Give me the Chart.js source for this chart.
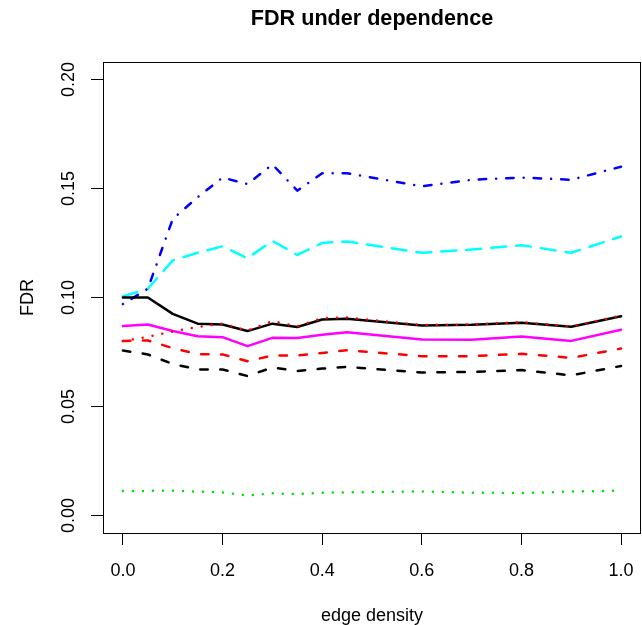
<!DOCTYPE html>
<html>
<head>
<meta charset="utf-8">
<script src="https://cdn.jsdelivr.net/npm/chart.js@4.4.0/dist/chart.umd.min.js"></script>
<style>
    html, body { margin: 0; padding: 0; background: #fff; }
    #wrap { width: 642px; height: 625px; }
</style>
</head>
<body>
<div id="wrap"><canvas id="fdrChart" width="642" height="625"></canvas></div>
<script>
// edge density values on the x axis
var density = [0, 0.05, 0.1, 0.15, 0.2, 0.25, 0.3, 0.35, 0.4, 0.45, 0.6, 0.7, 0.8, 0.9, 1.0];

// FDR curves
var blueDotDash   = [0.097, 0.104, 0.136, 0.146, 0.155, 0.152, 0.161, 0.149, 0.157, 0.157, 0.151, 0.154, 0.155, 0.154, 0.160];
var cyanLongDash  = [0.1005, 0.104, 0.117, 0.1205, 0.1235, 0.118, 0.126, 0.1195, 0.125, 0.1257, 0.1205, 0.122, 0.124, 0.1205, 0.128];
var blackSolid    = [0.100, 0.100, 0.0925, 0.088, 0.0876, 0.0846, 0.088, 0.0865, 0.0899, 0.0902, 0.0872, 0.0875, 0.0884, 0.0866, 0.0914];
var redDotted     = [0.080, 0.082, 0.0844, 0.0865, 0.088, 0.0848, 0.0892, 0.0868, 0.0905, 0.0908, 0.0874, 0.0876, 0.0887, 0.0867, 0.0917];
var magentaSolid  = [0.0869, 0.0876, 0.0846, 0.0822, 0.0818, 0.0777, 0.0815, 0.0814, 0.0829, 0.0841, 0.0807, 0.0806, 0.0821, 0.0801, 0.0852];
var redDashed     = [0.0801, 0.0803, 0.0768, 0.0740, 0.0739, 0.0708, 0.0734, 0.0734, 0.0746, 0.0758, 0.0731, 0.0731, 0.0742, 0.0723, 0.0766];
var blackDashed   = [0.0757, 0.0739, 0.0695, 0.0670, 0.0670, 0.0640, 0.0679, 0.0663, 0.0674, 0.0682, 0.0656, 0.0659, 0.0667, 0.0643, 0.0686];
var greenDotted   = [0.0113, 0.0113, 0.0114, 0.0110, 0.0106, 0.0092, 0.0102, 0.0098, 0.0105, 0.0106, 0.0111, 0.0105, 0.0103, 0.0110, 0.0114];

var xTicks = [0, 0.2, 0.4, 0.6, 0.8, 1.0];
var yTicks = [0, 0.05, 0.10, 0.15, 0.20];

var FONT = "'Liberation Sans', Arial, Helvetica, sans-serif";
var LW = 2.5;

function pts(values){
    return density.map(function(d, i){ return {x: d, y: values[i]}; });
}

function series(values, color, dash){
    return {
        data: pts(values),
        borderColor: color,
        borderWidth: LW,
        borderDash: dash,
        borderCapStyle: 'round',
        borderJoinStyle: 'round',
        pointRadius: 0,
        tension: 0,
        fill: false
    };
}

// R style box, tick labels and main title
var rFrame = {
    id: 'rFrame',
    afterDraw: function(chart){
        var ctx = chart.ctx;
        var a = chart.chartArea;
        var xs = chart.scales.x;
        var ys = chart.scales.y;
        ctx.save();
        ctx.strokeStyle = '#000';
        ctx.lineWidth = 1;
        ctx.strokeRect(Math.round(a.left) + 0.5, Math.round(a.top) + 0.5,
            Math.round(a.right - a.left) - 1, Math.round(a.bottom - a.top));

        ctx.fillStyle = '#000';
        ctx.font = '18px ' + FONT;
        ctx.textAlign = 'center';
        ctx.textBaseline = 'middle';
        xs.ticks.forEach(function(t){
            ctx.fillText(t.value.toFixed(1), xs.getPixelForValue(t.value), 571);
        });
        ys.ticks.forEach(function(t){
            var py = ys.getPixelForValue(t.value);
            ctx.save();
            ctx.translate(69, py);
            ctx.rotate(-Math.PI / 2);
            ctx.fillText(t.value.toFixed(2), 0, 0);
            ctx.restore();
        });

        ctx.font = 'bold 21.6px ' + FONT;
        ctx.fillText('FDR under dependence', (a.left + a.right) / 2, 19);
        ctx.restore();
    }
};

var ctx = document.getElementById('fdrChart').getContext('2d');
var chart = new Chart(ctx, {
    type: 'line',
    data: {
        datasets: [
            series(redDotted, '#ff0000', [0.01, 10]),
            series(blackSolid, '#000000', []),
            series(magentaSolid, '#ff00ff', []),
            series(redDashed, '#ff0000', [7.5, 12.5]),
            series(blackDashed, '#000000', [7.5, 12.5]),
            series(blueDotDash, '#0000ff', [0.01, 10, 7.5, 10]),
            series(cyanLongDash, '#00ffff', [15, 10]),
            series(greenDotted, '#00e000', [0.01, 10])
        ]
    },
    options: {
        responsive: false,
        animation: false,
        devicePixelRatio: 1,
        layout: { padding: { top: 62, right: 1, left: 0, bottom: 0 } },
        plugins: {
            legend: { display: false },
            tooltip: { enabled: false },
            title: { display: false }
        },
        scales: {
            x: {
                type: 'linear',
                min: -0.04,
                max: 1.04,
                afterBuildTicks: function(scale){
                    scale.ticks = xTicks.map(function(v){ return {value: v}; });
                },
                afterFit: function(scale){ scale.height = 92; },
                border: { display: false },
                grid: { drawOnChartArea: false, drawTicks: true, tickLength: 12, color: '#000', lineWidth: 1 },
                ticks: { display: false },
                title: {
                    display: true,
                    text: 'edge density',
                    color: '#000',
                    font: { family: FONT, size: 18 },
                    padding: { top: 10, bottom: -2 }
                }
            },
            y: {
                type: 'linear',
                min: -0.008,
                max: 0.208,
                afterBuildTicks: function(scale){
                    scale.ticks = yTicks.map(function(v){ return {value: v}; });
                },
                afterFit: function(scale){ scale.width = 103; },
                border: { display: false },
                grid: { drawOnChartArea: false, drawTicks: true, tickLength: 12, color: '#000', lineWidth: 1 },
                ticks: { display: false },
                title: {
                    display: true,
                    text: 'FDR',
                    color: '#000',
                    font: { family: FONT, size: 18 },
                    padding: { top: 17, bottom: 0 }
                }
            }
        }
    },
    plugins: [rFrame]
});
</script>
</body>
</html>
